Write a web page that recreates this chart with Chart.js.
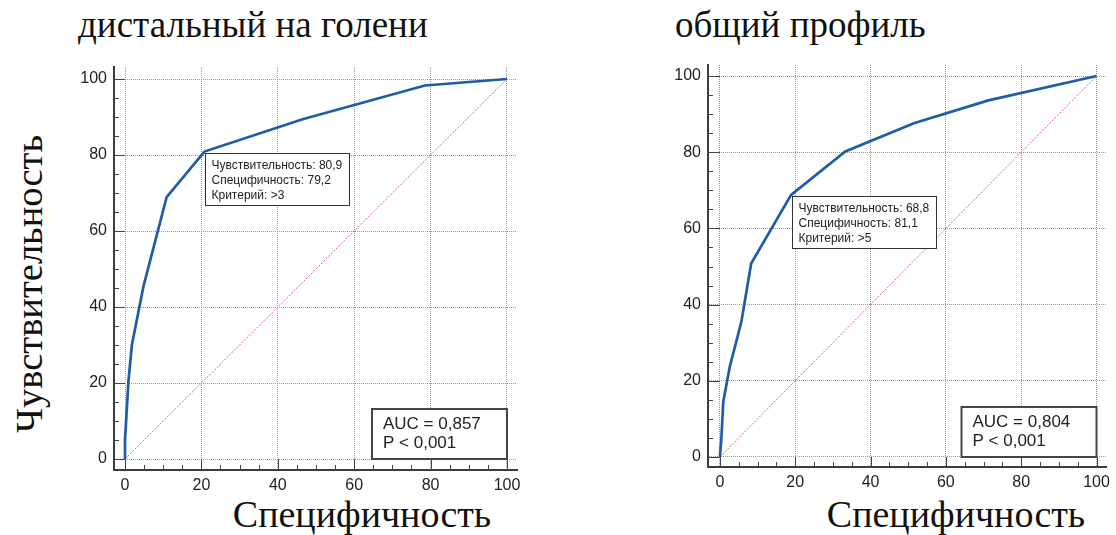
<!DOCTYPE html>
<html>
<head>
<meta charset="utf-8">
<script src="https://cdn.jsdelivr.net/npm/chart.js@4"></script>
<style>
    body { margin: 0; background: #fff; width: 1116px; height: 535px; position: relative; overflow: hidden; }
    canvas { position: absolute; top: 0; }
    .serif { position: absolute; font-family: 'Liberation Serif', 'Times New Roman', serif; font-size: 37px; line-height: 1; color: #111; white-space: nowrap; }
    .xtitle { width: 400px; text-align: center; top: 495px; font-size: 38px; }
</style>
</head>
<body>
<div class="serif" style="left:78px; top:6px;">дистальный на голени</div>
<div class="serif" style="left:675px; top:6px;">общий профиль</div>
<div class="serif" style="left:29px; top:284px; font-size:38.5px; transform: translate(-50%, -50%) rotate(-90deg);">Чувствительность</div>
<div class="serif xtitle" style="left:162px;">Специфичность</div>
<div class="serif xtitle" style="left:756px;">Специфичность</div>

<canvas id="left-chart" width="560" height="535" style="left:0"></canvas>
<canvas id="right-chart" width="556" height="535" style="left:560px"></canvas>

<script>
// Tick labels (both axes)
const axisTicks = [0, 20, 40, 60, 80, 100];

// Reference line
const diagX = [0, 100];
const diagY = [0, 100];

// Left panel: дистальный на голени
const leftSpec = [0, 0, 0.9, 1.8, 4.8, 10.9, 20.8, 46.5, 78.5, 100];
const leftSens = [0, 5, 20.5, 30, 45.3, 68.9, 80.9, 89.4, 98.3, 100];
const leftCut = { x: 20.8, y: 80.9, lines: ['Чувствительность: 80,9', 'Специфичность: 79,2', 'Критерий: >3'] };
const leftStats = ['AUC = 0,857', 'P < 0,001'];

// Right panel: общий профиль
const rightSpec = [0, 0.4, 0.9, 2.6, 5.7, 8.3, 18.9, 33.3, 51.5, 71.3, 100];
const rightSens = [0, 5, 14.5, 23.6, 35.5, 50.8, 68.8, 80.2, 87.6, 93.6, 100];
const rightCut = { x: 18.9, y: 68.8, lines: ['Чувствительность: 68,8', 'Специфичность: 81,1', 'Критерий: >5'] };
const rightStats = ['AUC = 0,804', 'P < 0,001'];

const toPoints = (xs, ys) => xs.map((x, i) => ({ x: x, y: ys[i] }));

// Inward ticks, cut-off box and AUC box
const rocDecor = {
    id: 'rocDecor',
    afterDraw(chart) {
        const { ctx, chartArea } = chart;
        const xs = chart.scales.x;
        const ys = chart.scales.y;
        const x0 = xs.getPixelForValue(0);
        const y0 = ys.getPixelForValue(0);
        const opts = chart.options.plugins.rocDecor;

        ctx.save();
        ctx.strokeStyle = '#444';
        ctx.lineWidth = 1;
        ctx.beginPath();
        for (let v = 0; v <= 100; v += 5) {
            const py = Math.round(ys.getPixelForValue(v)) + 0.5;
            const px = Math.round(xs.getPixelForValue(v)) + 0.5;
            const major = v % 20 === 0;
            ctx.moveTo(chartArea.left, py);
            ctx.lineTo(major ? x0 : chartArea.left + 5, py);
            ctx.moveTo(px, chartArea.bottom);
            ctx.lineTo(px, major ? y0 : chartArea.bottom - 5);
        }
        ctx.stroke();

        // cut-off annotation
        const cx = Math.round(xs.getPixelForValue(opts.cut.x)) + 1.5;
        const cy = Math.round(ys.getPixelForValue(opts.cut.y)) + 1.5;
        ctx.fillStyle = '#fff';
        ctx.fillRect(cx, cy, 144, 52);
        ctx.strokeStyle = '#333';
        ctx.strokeRect(cx, cy, 144, 52);
        ctx.fillStyle = '#222';
        ctx.font = '12px "Liberation Sans", Arial, sans-serif';
        ctx.textBaseline = 'middle';
        opts.cut.lines.forEach((t, i) => ctx.fillText(t, cx + 6, cy + 12 + i * 15));

        // AUC box anchored at (100, 0)
        const bx = xs.getPixelForValue(100);
        const by = ys.getPixelForValue(0);
        ctx.fillStyle = '#fff';
        ctx.fillRect(bx - 135, by - 50, 135, 50);
        ctx.strokeStyle = '#444';
        ctx.lineWidth = 2;
        ctx.strokeRect(bx - 135, by - 50, 135, 50);
        ctx.fillStyle = '#222';
        ctx.font = '17px "Liberation Sans", Arial, sans-serif';
        opts.stats.forEach((t, i) => ctx.fillText(t, bx - 124, by - 35 + i * 19));
        ctx.restore();
    }
};

function buildOptions(range, pad, cut, stats) {
    const tickFont = { family: '"Liberation Sans", Arial, sans-serif', size: 16 };
    const setTicks = scale => { scale.ticks = axisTicks.map(v => ({ value: v })); };
    return {
        responsive: false,
        animation: false,
        layout: { padding: pad },
        plugins: {
            legend: { display: false },
            tooltip: { enabled: false },
            rocDecor: { cut: cut, stats: stats }
        },
        scales: {
            x: {
                type: 'linear',
                min: range.xMin,
                max: range.xMax,
                afterBuildTicks: setTicks,
                afterFit: scale => { scale.height = 30; },
                grid: { color: '#9a9a9a', lineWidth: 1, drawTicks: false },
                border: { display: true, color: '#3c3c3c', width: 2, dash: [1, 1] },
                ticks: { font: tickFont, color: '#222', padding: 6, maxRotation: 0, autoSkip: false }
            },
            y: {
                type: 'linear',
                min: range.yMin,
                max: range.yMax,
                afterBuildTicks: setTicks,
                afterFit: scale => { scale.width = 50; },
                grid: { color: '#9a9a9a', lineWidth: 1, drawTicks: false },
                border: { display: true, color: '#3c3c3c', width: 2, dash: [1, 1] },
                ticks: { font: tickFont, color: '#222', padding: 7, autoSkip: false }
            }
        }
    };
}

function buildData(spec, sens) {
    return {
        datasets: [{
            data: toPoints(spec, sens),
            showLine: true,
            borderColor: '#1f5ca8',
            borderWidth: 2.7,
            pointRadius: 0,
            tension: 0
        }, {
            data: toPoints(diagX, diagY),
            showLine: true,
            borderColor: 'rgba(200, 70, 70, 0.8)',
            borderWidth: 1,
            borderDash: [2, 1.5],
            pointRadius: 0
        }]
    };
}

new Chart(document.getElementById('left-chart'), {
    type: 'scatter',
    data: buildData(leftSpec, leftSens),
    options: buildOptions(
        { xMin: -2.88, xMax: 102.62, yMin: -2.89, yMax: 103.16 },
        { left: 64, right: 43, top: 67, bottom: 35 },
        leftCut, leftStats),
    plugins: [rocDecor]
});

new Chart(document.getElementById('right-chart'), {
    type: 'scatter',
    data: buildData(rightSpec, rightSens),
    options: buildOptions(
        { xMin: -3.16, xMax: 102.63, yMin: -2.63, yMax: 102.9 },
        { left: 98, right: 6, top: 65, bottom: 38 },
        rightCut, rightStats),
    plugins: [rocDecor]
});
</script>
</body>
</html>
